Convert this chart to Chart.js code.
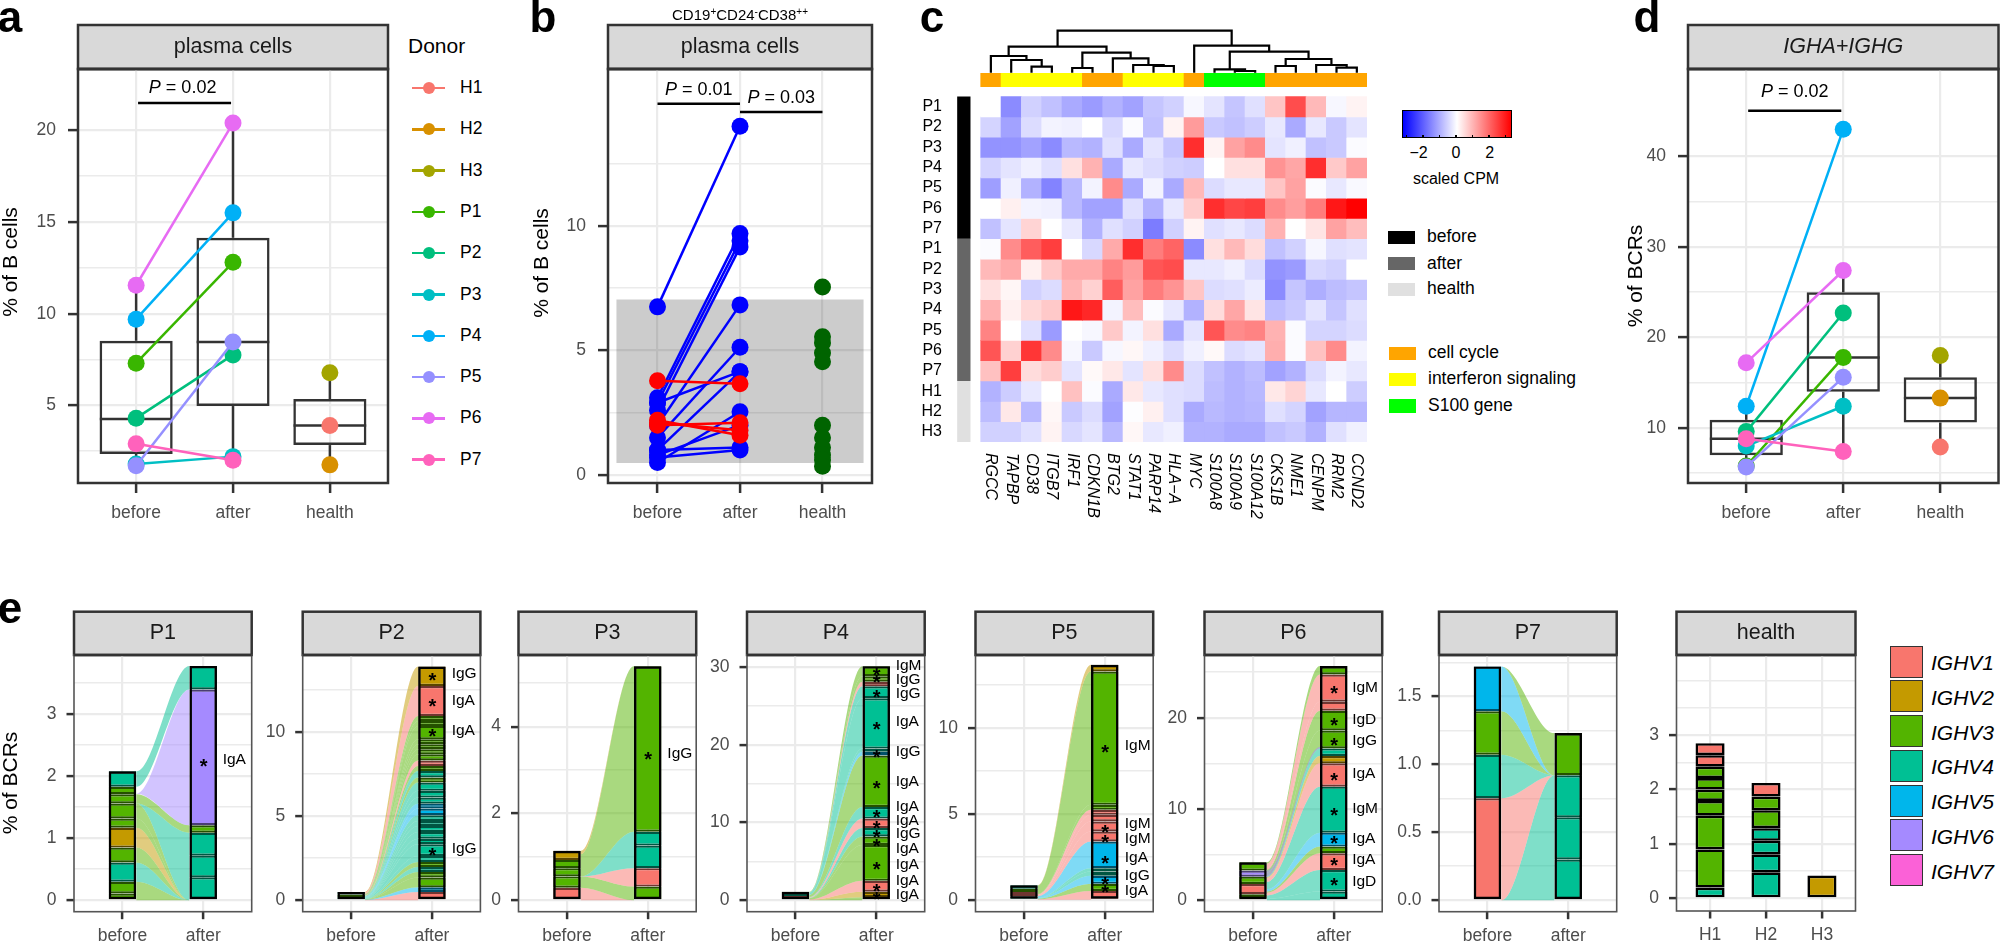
<!DOCTYPE html>
<html><head><meta charset="utf-8">
<style>
html,body{margin:0;padding:0;background:#fff;width:2000px;height:944px;overflow:hidden}
#stage{position:relative;width:2000px;height:944px;font-family:"Liberation Sans",Arial,sans-serif}
canvas{position:absolute}
.t{position:absolute;white-space:nowrap;line-height:1}
.s{position:absolute}
sup{font-size:10px;line-height:0;vertical-align:5px}
</style>
<script src="https://cdn.jsdelivr.net/npm/chart.js@4/dist/chart.umd.min.js"></script>
</head><body><div id="stage"></div>
<script>
const FONT='"Liberation Sans", Arial, sans-serif';
const GROUPS=['before','after','health'];
const DONORS=['H1','H2','H3','P1','P2','P3','P4','P5','P6','P7'];
const DONOR_COLORS=['#F8766D','#D89000','#A3A500','#39B600','#00BF7D','#00BFC4','#00B0F6','#9590FF','#E76BF3','#FF62BC'];
const IGHV=['IGHV1','IGHV2','IGHV3','IGHV4','IGHV5','IGHV6','IGHV7'];
const IGHV_COLORS=['#F8766D','#C49A00','#53B400','#00C094','#00B6EB','#A58AFF','#FB61D7'];

// panel a (P1..P7 paired, H1..H3)
const A_BEFORE=[7.3,4.3,1.8,9.7,1.7,11.55,2.9];
const A_AFTER=[12.8,7.75,2.2,15.5,8.45,20.4,2.0];
const A_HEALTH=[3.9,1.75,6.78];
const A_BOXES=[[2.35,4.25,8.52,1.7,11.55],[4.96,8.45,14.14,2.0,20.4],[2.83,3.9,5.34,1.75,6.78]];
// panel b
const B_BLUE_BEFORE=[6.75,3.1,2.9,2.6,2.0,1.5,1.0,2.9,0.5,0.8,1.0,0.7];
const B_BLUE_AFTER=[14.0,9.7,9.4,9.15,6.83,5.13,4.15,4.15,2.54,2.0,1.1,1.0];
const B_RED_BEFORE=[3.78,2.2,2.0,2.1];
const B_RED_AFTER=[3.66,1.6,2.1,1.8];
const B_HEALTH=[7.55,5.55,5.3,4.9,4.55,2.0,1.5,1.1,0.8,0.6,0.35];
// panel d
const D_BEFORE=[5.8,9.6,8.0,12.4,5.7,17.2,8.8];
const D_AFTER=[17.8,22.7,12.4,43,15.6,27.4,7.4];
const D_HEALTH=[7.9,13.3,18];
const D_BOXES=[[7.0,8.8,10.9,5.7,12.4],[14,17.8,25,7.4,27.4],[10.6,13.3,15.6,7.9,18]];

// panel c
const GENES=['RGCC','TAPBP','CD38','ITGB7','IRF1','CDKN1B','BTG2','STAT1','PARP14','HLA\u2212A','MYC','S100A8','S100A9','S100A12','CKS1B','NME1','CENPM','RRM2','CCND2'];
const ROWS=['P1','P2','P3','P4','P5','P6','P7','P1','P2','P3','P4','P5','P6','P7','H1','H2','H3'];
const HEAT=[
[0,-1.5,-.6,-.8,-1.1,-1.3,-1.0,-1.2,-.75,-.6,-.1,-.35,-.75,-.4,.75,2.3,.9,-.1,.15],
[-.55,-1.2,-.45,-.15,-.2,0,-.5,-.05,-.8,.15,1.3,-.7,-.8,-.65,-.3,-1.1,-.3,-.7,-.35],
[-1.4,-1.4,-1.2,-1.5,-.9,-1.0,-.4,-1.1,-.35,-.75,2.7,.15,1.2,1.5,-.35,-.2,-.8,-.7,-.05],
[-.55,-.35,-.2,-.4,.4,1.0,-1.1,-.3,-.45,-.6,-.65,0,.4,.4,1.4,1.15,2.7,.7,1.2],
[-1.25,-.2,-1.0,-1.6,-.9,-.15,1.5,-1.1,-.15,-1.1,.9,-.45,-.3,-.3,.75,1.2,-.05,-.3,-.08],
[0,.2,-.15,-.2,-.9,-1.2,-1.2,-.4,-1.0,-.3,.65,2.7,2.4,2.5,1.5,1.25,1.7,3.0,3.3],
[-.8,-.35,.55,0,-.3,-1.0,-.4,-.6,-1.7,-.6,.15,-.4,-.3,-.45,1.0,0,.35,1.2,.85],
[-.05,1.5,2.1,2.5,0,-.5,1.1,2.7,1.7,2.0,-1.5,.4,.9,.45,-.8,-.6,-.12,-.4,-.35],
[.9,1.1,.2,.7,1.1,1.1,1.6,1.3,2.2,2.3,-.3,-.3,-.2,-.45,-1.4,-1.3,-.5,-.6,0],
[.4,.12,-.6,-.45,.95,.6,2.1,1.2,1.7,1.4,.75,-.45,-.4,-.25,-1.5,-.75,-1.05,-.85,-.75],
[1.0,.2,.5,.7,3.0,2.8,-.15,.85,-.05,-.3,-1.0,.45,1.15,.35,-.85,-.7,-.35,-.75,-.4],
[1.6,0,-.4,-1.3,0,-.1,.7,-.15,.4,-1.1,-.35,2.2,1.5,1.6,1.0,-.05,-.55,-.55,-.45],
[2.2,.6,2.6,1.5,-.1,-.7,-.1,.1,-.2,-.45,-.2,.08,-.45,-.35,1.05,-.05,.8,1.5,-.15],
[.8,2.5,.45,.65,-.35,.08,.3,-.35,.4,1.5,-.45,-.8,-1,-.85,-1.2,-1.0,-.45,-.15,-.3],
[-1.0,-.65,-.3,0,.8,-.05,-1.1,.3,-.3,-.4,-.45,-.85,-1,-.9,.3,.55,-.3,0,-.65],
[-.85,.3,-.9,.1,-.7,-.45,-1.2,-.03,.2,-.4,-1.1,-.9,-1,-.95,-.4,-.55,-1.2,-.95,-.95],
[-.6,-.6,-.4,.15,-.5,-.35,-.9,.1,-.3,-.2,-1.0,-1,-1.1,-1.1,-.8,-.7,-1,-.4,-.2]];
const COL_GROUP=[0,1,1,1,1,0,0,1,1,1,0,2,2,2,0,0,0,0,0];
const COL_GROUP_NAMES=['cell cycle','interferon signaling','S100 gene'];
const COL_GROUP_COLORS=['#FFA500','#FFFF00','#00FF00'];
const ROW_GROUP_NAMES=['before','after','health'];
const ROW_GROUP_COLORS=['#000000','#666666','#E0E0E0'];
const ROW_GROUP_SPANS=[[0,7],[7,14],[14,17]];
// dendrogram merges: [left, right, height]; numbers are leaves, 'mN' are earlier merges
const MERGES=[[2,3,6],[1,'m0',12.7],[0,'m1',16.7],[4,5,4.7],[8,9,6.7],[7,'m4',7.7],[6,'m5',14.4],['m3','m6',20],['m2','m7',26],
[12,13,1.7],[11,'m9',3.4],[14,15,6.7],[17,18,5],[16,'m12',7.7],['m11','m13',13.7],['m10','m14',21],[10,'m15',27],['m8','m16',42]];

// panel e strata: genes and cumulative tops
const P1_B_G=[2,2,3,2,1,2,2,2,2,3], P1_B_T=[.11,.30,.61,.85,1.17,1.32,1.56,1.71,1.83,2.08];
const P1_A_G=[3,3,3,2,5,3], P1_A_T=[.37,.72,1.09,1.21,3.40,3.78];
const P1_FLOWS=[[2,0,.30,0,0],[3,.30,.61,0,0],[2,.61,.85,0,0],[1,.85,1.17,0,0],[2,1.17,1.32,0,0],[2,1.32,1.56,0,0],[3,1.56,1.56,0,1.09],[2,1.56,1.71,1.09,1.21],[5,1.72,1.72,1.21,3.40],[3,1.83,2.08,3.40,3.78]];
const P2_B_G=[3,2,3], P2_B_T=[.2,.35,.5];
const P2_A_G=[0,4,2,2,3,2,3,3,3,3,3,3,3,4,4,3,3,3,2,3,2,0,2,2,2,2,2,2,2,0,1];
const P2_A_T=[.5,.77,1.35,1.68,1.98,2.28,2.63,3.33,3.66,4.06,4.42,4.71,5.05,5.45,5.74,6.1,6.5,6.99,7.29,7.68,7.98,8.3,8.67,8.97,9.27,9.56,10.36,10.65,10.95,12.73,13.88];
const P3_B_G=[0,2,2,2,1], P3_B_T=[.29,.55,.74,.93,1.14];
const P3_A_G=[2,0,3,3,2], P3_A_T=[.315,.74,1.26,1.58,5.39];
const P3_FLOWS=[[0,0,.29,0,0],[2,.29,.55,0,.315],[0,.55,.55,.315,.74],[3,.55,.55,.74,1.58],[2,.55,1.06,1.58,5.39],[1,1.06,1.14,5.39,5.39]];
const P4_B_G=[3,0,3,2], P4_B_T=[.3,.55,.8,1.1];
const P4_A_G=[2,1,0,2,2,3,0,3,2,4,3,3,3,0,2,2];
const P4_A_T=[.4,1.1,2.5,7.1,8.2,9.3,10.5,12.0,18.6,19.1,19.5,25.98,27.5,28.1,28.8,30.1];
const P5_B_G=[3,0,2,3], P5_B_T=[.2,.45,.65,.85];
const P5_A_G=[0,2,4,3,3,4,0,0,0,0,2,2,1];
const P5_A_T=[.52,.93,1.4,1.65,1.84,3.39,3.97,4.55,4.94,5.23,5.52,13.27,13.66];
const P6_B_G=[0,2,0,2,5,2], P6_B_T=[.2,.66,1.79,2.59,3.25,4.16];
const P6_A_G=[3,3,0,2,4,3,0,1,3,2,2,0,0,2];
const P6_A_T=[.95,3.32,5.15,5.88,7.41,12.45,15,15.8,16.64,18.6,20.77,21.75,24.74,25.66];
const P6_EXTRA=[[5,2.6,3.25,16.6,16.8]];
const P7_B_G=[0,3,2,4], P7_B_T=[.75,1.07,1.39,1.72];
const P7_A_G=[3,3,3,2], P7_A_T=[.30,.61,.92,1.23];
const P7_FLOWS=[[3,0,0,0,.92],[0,0,.75,.92,.92],[3,.75,1.07,.92,.92],[2,1.07,1.39,.92,.92],[4,1.39,1.72,.92,.92],[2,1.72,1.72,.92,1.23]];
const H_G=[[3,2,2,2,2,2,2,0,0],[3,3,3,3,2,2,0],[1]];
const H_T=[[.2,.9,1.52,1.79,2.0,2.21,2.42,2.63,2.85],[.48,.81,1.06,1.29,1.62,1.87,2.12],[.42]];
// significance marks
const P1_STARS=[2.24], P1_LABELS=[['IgA',2.27]];
const P2_STARS=[13.33,11.82,10.02,2.95], P2_LABELS=[['IgG',13.45],['IgA',11.88],['IgA',10.06],['IgG',3.05]];
const P3_STARS=[3.35], P3_LABELS=[['IgG',3.37]];
const P4_STARS=[.8,1.76,4.6,7.6,8.7,9.9,11.3,15,19,22.6,26.7,28.6,29.5];
const P4_LABELS=[['IgM',30.2],['IgG',28.3],['IgG',26.5],['IgA',22.9],['IgG',19.1],['IgA',15.3],['IgA',12],['IgA',10.2],['IgG',8.5],['IgA',6.6],['IgA',4.6],['IgA',2.5],['IgA',.7]];
const P5_STARS=[8.88,4.22,3.6,2.42,1.16,.7];
const P5_LABELS=[['IgM',8.97],['IgM',4.42],['IgM',3.55],['IgA',2.44],['IgG',1.41],['IgA',.54]];
const P6_STARS=[23.18,19.67,17.48,13.72,9.89,6.82,4.34,2.12];
const P6_LABELS=[['IgM',23.28],['IgD',19.82],['IgG',17.48],['IgA',13.87],['IgM',10.04],['IgA',6.75],['IgA',4.42],['IgD',2.0]];

const stage=document.getElementById('stage');
function T(html,x,y,o={}){const d=document.createElement('div');d.className='t';d.innerHTML=html;
 const a=o.a||'c';const tx=a==='l'?'0':a==='r'?'-100%':'-50%';
 d.style.cssText=`left:${x}px;top:${y}px;font-size:${o.s||17.5}px;color:${o.c||'#000'};font-weight:${o.w||'normal'};font-style:${o.i?'italic':'normal'};transform:translate(${tx},-50%)${o.r?` rotate(${o.r}deg)`:''}`;
 stage.appendChild(d);return d;}
function R(x,y,w,h,css){const d=document.createElement('div');d.className='s';d.style.cssText=`left:${x}px;top:${y}px;width:${w}px;height:${h}px;${css}`;stage.appendChild(d);return d;}

function dark(hex,f=.45){const n=parseInt(hex.slice(1),16);return `rgb(${(n>>16)*f|0},${((n>>8)&255)*f|0},${(n&255)*f|0})`;}
function rgba(hex,a){const n=parseInt(hex.slice(1),16);return `rgba(${n>>16},${(n>>8)&255},${n&255},${a})`;}

function lineDs(pts,color,w,extra={}){return Object.assign({type:'line',data:pts,borderColor:color,backgroundColor:color,borderWidth:w,pointRadius:0,fill:false,tension:0,clip:false},extra);}
function dotsDs(pts,color,rad,w){return lineDs(pts,color,w,{pointRadius:rad,pointBackgroundColor:color,pointBorderWidth:0,showLine:pts.length>1&&w>0});}
function barDs(x,a,b,bg,border,bw,pct){return {type:'bar',data:[{x,y:[a,b]}],backgroundColor:bg,borderColor:border,borderWidth:bw,borderSkipped:false,grouped:false,barPercentage:1,categoryPercentage:pct};}

function boxDs(boxes){const out=[];boxes.forEach(([q1,m,q3,lo,hi],i)=>{
 out.push(lineDs([{x:i,y:q3},{x:i,y:hi}],'#333',2.5));
 out.push(lineDs([{x:i,y:lo},{x:i,y:q1}],'#333',2.5));
 out.push(barDs(i,q1,q3,'rgba(0,0,0,0)','#333',2.5,.755));
 out.push(lineDs([{x:i-.375,y:m},{x:i+.375,y:m}],'#333',2.5));
});return out;}

function deco(cfg){return {id:'deco',
 beforeDraw(c){const a=c.chartArea,x=c.ctx;x.save();x.fillStyle='#D9D9D9';x.fillRect(a.left,cfg.T,a.width,a.top-cfg.T);x.strokeStyle='#333';x.lineWidth=2.5;x.strokeRect(a.left,cfg.T,a.width,a.top-cfg.T);x.restore();},
 afterDraw(c){const a=c.chartArea,x=c.ctx,sx=c.scales.x,sy=c.scales.y;x.save();
  x.strokeStyle=cfg.bc||'#333';x.lineWidth=cfg.bw||2.5;x.strokeRect(a.left,a.top,a.width,a.height);
  x.strokeStyle='#333';x.lineWidth=2.5;x.beginPath();x.moveTo(a.left,a.top);x.lineTo(a.right,a.top);x.stroke();
  (cfg.notes||[]).forEach(n=>{const px=sx.getPixelForValue(n.x)+(n.dx||0),py=sy.getPixelForValue(n.y);
   x.fillStyle='#000';
   if(n.star){x.font=`bold 20px ${FONT}`;x.textAlign='center';x.textBaseline='alphabetic';x.fillText('*',px+.5,py+11.5);return;}
   if(n.p){x.textBaseline='middle';x.textAlign='left';x.font=`italic 18px ${FONT}`;const w1=x.measureText('P').width;x.font=`18px ${FONT}`;const w2=x.measureText(n.p).width;const l=px-(w1+w2)/2;x.font=`italic 18px ${FONT}`;x.fillText('P',l,py);x.font=`18px ${FONT}`;x.fillText(n.p,l+w1,py);return;}
   x.font=`15.5px ${FONT}`;x.textAlign='left';x.textBaseline='middle';x.fillText(n.t,px,py);
  });x.restore();}};}

function panel(g){
 const left=Math.floor(g.x0-g.L), top=Math.floor(g.yS-2);
 const L=g.x0-left, Tp=g.yS-top, S=g.yP-g.yS, W=g.x1-g.x0, H=g.yB-g.yP;
 const cw=Math.ceil(L+W+3), ch=Math.ceil(Tp+S+H+g.B), B=ch-Tp-S-H;
 const cv=document.createElement('canvas');cv.width=cw;cv.height=ch;cv.style.left=left+'px';cv.style.top=top+'px';cv.style.width=cw+'px';cv.style.height=ch+'px';stage.appendChild(cv);
 const fmt=g.fmt||(v=>String(v));
 g.data.forEach((d,i)=>d.order=-i);
 const tickOpt=(padding)=>({autoSkip:false,maxRotation:0,minRotation:0,padding,color:'#4d4d4d',font:{family:FONT,size:17.5}});
 const gridOpt=(len)=>({offset:false,color:'#ebebeb',lineWidth:c=>c.tick&&c.tick.major?2.2:1.6,tickColor:c=>c.tick&&c.tick.major?'#333':'rgba(0,0,0,0)',tickWidth:2.5,tickLength:len});
 new Chart(cv,{type:'bar',data:{datasets:g.data},
  plugins:[deco({T:Tp,notes:g.notes,bw:g.bw,bc:g.bc})],
  options:{animation:false,responsive:false,events:[],devicePixelRatio:1,
   layout:{autoPadding:false,padding:{left:0,right:cw-L-W,top:Tp,bottom:0}},
   plugins:{legend:{display:false},tooltip:{enabled:false},
    title:{display:true,fullSize:false,text:g.title,color:'#1a1a1a',font:{family:FONT,size:21.5,weight:'normal',style:g.ti?'italic':'normal',lineHeight:1.2},padding:{top:(S-25.8)/2,bottom:(S-25.8)/2}}},
   scales:{
    x:{type:'linear',min:g.xmin,max:g.xmax,offset:false,afterFit:s=>{s.height=B;},
       afterBuildTicks:s=>{s.ticks=g.cats.map((c,i)=>({value:i,major:true}));},
       ticks:Object.assign(tickOpt(g.xpad||8),{callback:v=>g.cats[v]}),grid:gridOpt(g.tl||8),border:{display:false}},
    y:{type:'linear',min:g.ymin,max:g.ymax,afterFit:s=>{s.width=L;},
       afterBuildTicks:s=>{s.ticks=[...g.maj,...g.min].sort((a,b)=>a-b).map(v=>({value:v,major:g.maj.includes(v)}));},
       ticks:Object.assign(tickOpt(g.ypad||10),{callback:v=>g.maj.includes(v)?fmt(v):''}),grid:gridOpt(g.tl||8),border:{display:false}}
   }}});
}

/* --- panel a --- */
(function(){
 const ds=boxDs(A_BOXES);
 ds.push(lineDs([{x:.02,y:21.5},{x:.98,y:21.5}],'#000',2.5));
 A_BEFORE.forEach((v,i)=>ds.push(dotsDs([{x:0,y:v},{x:1,y:A_AFTER[i]}],DONOR_COLORS[i+3],8.5,2.5)));
 A_HEALTH.forEach((v,i)=>ds.push(dotsDs([{x:2,y:v}],DONOR_COLORS[i],8.5,0)));
 panel({x0:78,x1:388,yS:25,yP:69,yB:483,L:75,B:45,title:'plasma cells',cats:GROUPS,xmin:-.6,xmax:2.6,ymin:.761,ymax:23.35,
  maj:[5,10,15,20],min:[2.5,7.5,12.5,17.5],data:ds,tl:10,ypad:12,xpad:10,
  notes:[{x:.48,y:22.3,p:' = 0.02'}]});
})();
/* --- panel b --- */
(function(){
 const ds=[];
 ds.push(lineDs([{x:-.5,y:7.05},{x:2.5,y:7.05}],'rgba(0,0,0,0)',0,{fill:{value:.48},backgroundColor:'rgba(0,0,0,.2)'}));
 ds.push(lineDs([{x:0,y:14.9},{x:1,y:14.9}],'#000',2.5));
 ds.push(lineDs([{x:1,y:14.57},{x:2,y:14.57}],'#000',2.5));
 B_BLUE_BEFORE.forEach((v,i)=>ds.push(dotsDs([{x:0,y:v},{x:1,y:B_BLUE_AFTER[i]}],'#0000FF',8.5,2.5)));
 B_RED_BEFORE.forEach((v,i)=>ds.push(dotsDs([{x:0,y:v},{x:1,y:B_RED_AFTER[i]}],'#FF0000',8.5,2.5)));
 ds.push(lineDs(B_HEALTH.map(v=>({x:2,y:v})),'#006400',0,{pointRadius:8.5,pointBackgroundColor:'#006400',pointBorderWidth:0,showLine:false}));
 panel({x0:608,x1:872,yS:25,yP:69,yB:483,L:75,B:45,title:'plasma cells',cats:GROUPS,xmin:-.6,xmax:2.6,ymin:-.321,ymax:16.3,
  maj:[0,5,10],min:[2.5,7.5,12.5],data:ds,tl:10,ypad:12,xpad:10,
  notes:[{x:.5,y:15.45,p:' = 0.01'},{x:1.5,y:15.12,p:' = 0.03'}]});
})();
/* --- panel d --- */
(function(){
 const ds=boxDs(D_BOXES);
 ds.push(lineDs([{x:.02,y:45.07},{x:.98,y:45.07}],'#000',2.5));
 D_BEFORE.forEach((v,i)=>ds.push(dotsDs([{x:0,y:v},{x:1,y:D_AFTER[i]}],DONOR_COLORS[i+3],8.5,2.5)));
 D_HEALTH.forEach((v,i)=>ds.push(dotsDs([{x:2,y:v}],DONOR_COLORS[i],8.5,0)));
 panel({x0:1688,x1:1998.5,yS:25,yP:69,yB:483,L:60,B:45,title:'IGHA+IGHG',ti:true,cats:GROUPS,xmin:-.6,xmax:2.6,ymin:3.92,ymax:49.67,
  maj:[10,20,30,40],min:[5,15,25,35],data:ds,tl:10,ypad:12,xpad:10,
  notes:[{x:.5,y:47.1,p:' = 0.02'}]});
})();

/* --- panel c heatmap --- */
function heatColor(v){const f=Math.min(1,Math.abs(v)/3.3),k=Math.round(255*(1-f));return v>=0?`rgb(255,${k},${k})`:`rgb(${k},${k},255)`;}
(function(){
 const left=897,top=29,w=472,h=497;
 const cv=document.createElement('canvas');cv.width=w;cv.height=h;cv.style.left=left+'px';cv.style.top=top+'px';cv.style.width=w+'px';cv.style.height=h+'px';stage.appendChild(cv);
 const ds=[];
 HEAT.forEach((row,r)=>ds.push({type:'bar',data:row.map((v,c)=>({x:c+.5,y:[r,r+1]})),backgroundColor:row.map(heatColor),borderWidth:0,grouped:false,barPercentage:1,categoryPercentage:1}));
 ds.push({type:'bar',data:GENES.map((g,c)=>({x:c+.5,y:[-1.14,-.48]})),backgroundColor:COL_GROUP.map(i=>COL_GROUP_COLORS[i]),borderWidth:0,grouped:false,barPercentage:1,categoryPercentage:1});
 ROW_GROUP_SPANS.forEach(([a,b],i)=>ds.push({type:'bar',data:[{x:-.83,y:[a,b]}],backgroundColor:ROW_GROUP_COLORS[i],borderWidth:0,grouped:false,barPercentage:.655,categoryPercentage:1}));
 const pos={},hh={};
 MERGES.forEach(([a,b,ht],i)=>{
  const xa=typeof a==='number'?a+.5:pos[a],xb=typeof b==='number'?b+.5:pos[b];
  const ha=typeof a==='number'?0:hh[a],hb=typeof b==='number'?0:hh[b];
  pos['m'+i]=(xa+xb)/2;hh['m'+i]=ht;
  ds.push(lineDs([{x:xa,y:ha},{x:xa,y:ht},{x:xb,y:ht},{x:xb,y:hb}],'#000',2.2,{yAxisID:'yD'}));
 });
 new Chart(cv,{type:'bar',data:{datasets:ds},
  plugins:[{id:'geneLabels',afterDraw(c){const x=c.ctx,s=c.scales.x;x.save();x.fillStyle='#000';x.font=`italic 16px ${FONT}`;x.textAlign='left';x.textBaseline='middle';
    GENES.forEach((g,i)=>{x.save();x.translate(s.getPixelForValue(i+.5),453-top);x.rotate(Math.PI/2);x.fillText(g,0,0);x.restore();});x.restore();}}],
  options:{animation:false,responsive:false,events:[],devicePixelRatio:1,
   layout:{autoPadding:false,padding:{left:0,right:w-(957-left)-410,top:30.7-top,bottom:top+h-442}},
   plugins:{legend:{display:false},tooltip:{enabled:false}},
   scales:{
    x:{type:'linear',display:false,min:-1.166,max:19,offset:false,afterBuildTicks:s=>{s.ticks=GENES.map((g,i)=>({value:i}));},grid:{offset:false}},
    y:{type:'linear',reverse:true,min:-3.24,max:17,afterFit:s=>{s.width=957-left;s.paddingTop=0;s.paddingBottom=0;},
       afterBuildTicks:s=>{s.ticks=ROWS.map((r,i)=>({value:i+.5}));},
       ticks:{autoSkip:false,padding:15,color:'#000',font:{family:FONT,size:16},callback:v=>ROWS[v-.5]},grid:{display:false,drawTicks:false},border:{display:false}},
    yD:{type:'linear',display:false,min:-369.3,max:42,grid:{display:false}}
   }}});
})();

/* --- panel e --- */
function strataDs(x,genes,tops,pct,border){const out=[];let prev=0;
 tops.forEach((t,i)=>{const col=IGHV_COLORS[genes[i]];out.push(barDs(x,prev,t,col,border||dark(col),2.2,pct));prev=t;});
 out.push(barDs(x,0,tops[tops.length-1],'rgba(0,0,0,0)','#000',2.4,pct));
 return out;}
function flowDs(flows){const out=[],xl=.17,xr=.83,e=.002;
 flows.forEach(([g,b0,b1,a0,a1])=>{
  const curve=(b,a)=>[{x:xl,y:b},{x:xl+e,y:b},{x:xr-e,y:a},{x:xr,y:a}];
  const col=rgba(IGHV_COLORS[g],.5);
  out.push(lineDs(curve(b0,a0),'rgba(0,0,0,0)',0,{cubicInterpolationMode:'monotone'}));
  out.push(lineDs(curve(b1,a1),'rgba(0,0,0,0)',0,{cubicInterpolationMode:'monotone',fill:'-1',backgroundColor:col}));
 });return out;}
function wedges(bTops,aGenes,aTops){const bT=bTops[bTops.length-1],aT=aTops[aTops.length-1];let prev=0;
 return aTops.map((t,i)=>{const r=[aGenes[i],bT*prev/aT,bT*t/aT,prev,t];prev=t;return r;});}
function marks(stars,labels,dx){return [...stars.map(y=>({x:1,y,star:true})),...labels.map(([t,y])=>({x:1,y,t,dx}))];}
const CATS_E=['before','after'];
function facet(o){
 const ds=[...flowDs(o.flows),...strataDs(0,o.bg,o.bt,.34),...strataDs(1,o.ag,o.at,.34)];
 panel({x0:o.x0,x1:o.x0+177.7,yS:611.7,yP:655,yB:911.7,L:62,B:33,title:o.title,cats:CATS_E,xmin:-.6,xmax:1.6,ymin:o.ymin,ymax:o.ymax,
  maj:o.maj,min:o.min,fmt:o.fmt,data:ds,bw:1.6,bc:'#555',tl:7.5,ypad:10,xpad:6,notes:o.notes});
}
facet({title:'P1',x0:74,ymin:-.184,ymax:3.956,maj:[0,1,2,3],min:[.5,1.5,2.5,3.5],bg:P1_B_G,bt:P1_B_T,ag:P1_A_G,at:P1_A_T,flows:P1_FLOWS,notes:marks(P1_STARS,P1_LABELS,19.4)});
facet({title:'P2',x0:302.7,ymin:-.677,ymax:14.57,maj:[0,5,10],min:[2.5,7.5,12.5],bg:P2_B_G,bt:P2_B_T,ag:P2_A_G,at:P2_A_T,flows:wedges(P2_B_T,P2_A_G,P2_A_T),notes:marks(P2_STARS,P2_LABELS,19.7)});
facet({title:'P3',x0:518.5,ymin:-.263,ymax:5.65,maj:[0,2,4],min:[1,3,5],bg:P3_B_G,bt:P3_B_T,ag:P3_A_G,at:P3_A_T,flows:P3_FLOWS,notes:marks(P3_STARS,P3_LABELS,19.6)});
facet({title:'P4',x0:747,ymin:-1.465,ymax:31.53,maj:[0,10,20,30],min:[5,15,25],bg:P4_B_G,bt:P4_B_T,ag:P4_A_G,at:P4_A_T,flows:wedges(P4_B_T,P4_A_G,P4_A_T),notes:marks(P4_STARS,P4_LABELS,19.4)});
facet({title:'P5',x0:975.5,ymin:-.69,ymax:14.23,maj:[0,5,10],min:[2.5,7.5,12.5],bg:P5_B_G,bt:P5_B_T,ag:P5_A_G,at:P5_A_T,flows:wedges(P5_B_T,P5_A_G,P5_A_T),notes:marks(P5_STARS,P5_LABELS,20)});
facet({title:'P6',x0:1204.5,ymin:-1.25,ymax:26.87,maj:[0,10,20],min:[5,15,25],bg:P6_B_G,bt:P6_B_T,ag:P6_A_G,at:P6_A_T,flows:[...wedges(P6_B_T,P6_A_G,P6_A_T),...P6_EXTRA],notes:marks(P6_STARS,P6_LABELS,18.4)});
facet({title:'P7',x0:1439,ymin:-.084,ymax:1.804,maj:[0,.5,1,1.5],min:[.25,.75,1.25,1.75],fmt:v=>v.toFixed(1),bg:P7_B_G,bt:P7_B_T,ag:P7_A_G,at:P7_A_T,flows:P7_FLOWS,notes:[]});
(function(){
 const ds=[];H_T.forEach((tops,i)=>{let prev=0;tops.forEach((t,j)=>{ds.push(barDs(i,prev,t,IGHV_COLORS[H_G[i][j]],'#000',2.6,.52));prev=t;});});
 panel({x0:1676.5,x1:1855.5,yS:611.7,yP:655,yB:911,L:62,B:33,title:'health',cats:['H1','H2','H3'],xmin:-.6,xmax:2.6,ymin:-.23,ymax:4.47,
  maj:[0,1,2,3],min:[.5,1.5,2.5,3.5,4],data:ds,bw:1.6,bc:'#555',tl:7.5,ypad:10,xpad:6});
})();

/* --- text, legends --- */
[['a',10,16.8],['b',543,16.8],['c',932,16.8],['d',1647,16.8],['e',10,608]].forEach(([t,x,y])=>T(t,x,y,{s:44,w:'bold'}));
T('% of B cells',9,262,{s:21,r:-90});
T('% of B cells',540,263,{s:21,r:-90});
T('% of BCRs',1634,276,{s:21,r:-90});
T('% of BCRs',9,783,{s:21,r:-90});
T('CD19<sup>+</sup>CD24<sup>-</sup>CD38<sup>++</sup>',740,13.5,{s:15});
T('Donor',408,45,{s:21,a:'l'});
DONORS.forEach((d,i)=>{const y=88+i*41.3;
 R(412,y-1.25,33,2.5,`background:${DONOR_COLORS[i]}`);
 R(422.5,y-6,12,12,`background:${DONOR_COLORS[i]};border-radius:50%`);
 T(d,460,y,{s:17.5,a:'l'});});
// colour bar
R(1401.7,110,108,26,'background:linear-gradient(90deg,#0000ff,#ffffff 50%,#ff0000);border:1.5px solid #000');
[-3,-2,-1,0,1,2,3].forEach(k=>R(1456+k*16.45-.75,135,1.5,3,'background:#000'));
T('\u22122',1418.5,152.7,{s:16});T('0',1456,152.7,{s:16});T('2',1489.7,152.7,{s:16});
T('scaled CPM',1456,178.5,{s:16});
ROW_GROUP_NAMES.forEach((n,i)=>{const y=[237.4,263.8,289.3][i];R(1388,y-6.7,26.5,13.4,`background:${ROW_GROUP_COLORS[i]}`);T(n,1427,y,{s:17.5,a:'l'});});
COL_GROUP_NAMES.forEach((n,i)=>{const y=[353.3,379.3,406][i];R(1389.3,y-6.7,26.7,13.4,`background:${COL_GROUP_COLORS[i]}`);T(n,1428,y,{s:17.5,a:'l'});});
IGHV.forEach((n,i)=>{const y=662+i*34.75;R(1889.5,y-16.5,31,30,`background:${IGHV_COLORS[i]};border:1.5px solid #333`);T(n,1931,y,{s:21,a:'l',i:true});});
</script>
</body></html>
